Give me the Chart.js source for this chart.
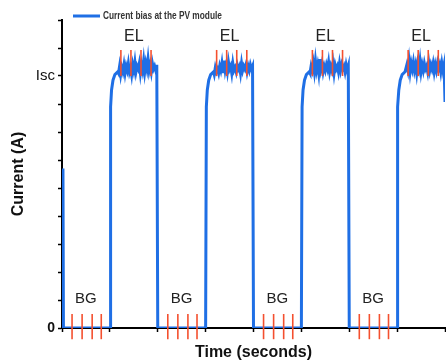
<!DOCTYPE html>
<html>
<head>
<meta charset="utf-8">
<script src="https://cdn.jsdelivr.net/npm/chart.js"></script>
<style>
  html, body { margin: 0; padding: 0; background: #fff; }
</style>
</head>
<body>
<canvas id="chart" width="446" height="362"></canvas>
<script>
// EL (lamp on) windows start at these times, BG windows in between
const elStarts = [1, 3, 5, 7];
const bgStarts = [0, 2, 4, 6];

// shape of the rise after the lamp switches on
const riseTimes = [0, 0.01, 0.03, 0.06, 0.1, 0.16];
const riseValues = [0, 7.9, 8.5, 8.85, 9.05, 9.15];

// noisy plateau (Isc is 9 on the axis)
const plateau1 = [9.10, 9.35, 9.05, 9.30, 9.15, 9.40, 9.10, 9.35, 9.20, 9.45, 9.15, 9.30, 9.05, 9.40, 9.20, 9.50, 9.15, 9.35,
                  9.25, 9.45, 9.10, 9.40, 9.20, 9.55, 9.15, 9.45, 9.25, 9.60, 9.20, 9.40, 9.15, 9.45, 9.25, 9.35, 9.20, 9.40];
const plateau2 = [9.05, 9.30, 9.15, 9.25, 9.10, 9.35, 9.20, 9.45, 9.10, 9.55, 9.20, 9.40, 9.15, 9.50, 9.25, 9.35, 9.10, 9.45,
                  9.20, 9.30, 9.15, 9.40, 9.25, 9.35, 9.10, 9.45, 9.20, 9.35, 9.25, 9.40, 9.15, 9.35, 9.20, 9.40, 9.25, 9.35];
const plateau3 = [9.10, 9.35, 9.20, 9.45, 9.15, 9.55, 9.20, 9.40, 9.10, 9.60, 9.25, 9.45, 9.15, 9.35, 9.20, 9.40, 9.25, 9.50,
                  9.15, 9.35, 9.20, 9.45, 9.10, 9.40, 9.25, 9.35, 9.15, 9.45, 9.20, 9.40, 9.25, 9.35, 9.15, 9.40, 9.20, 9.35];
const plateau4 = [9.15, 9.40, 9.20, 9.55, 9.15, 9.45, 9.25, 9.50, 9.20, 9.40, 9.10, 9.45, 9.25, 9.55, 9.15, 9.40, 9.20, 9.45,
                  9.25, 9.35, 9.15, 9.50, 9.20, 9.40, 9.25, 9.45, 9.15, 9.40, 9.20, 9.45, 9.25, 9.40, 9.15, 9.45, 9.20, 9.40];
const plateaus = [plateau1, plateau2, plateau3, plateau4];

const startValue = 5.7;   // tail of the previous EL pulse at t=0
const endValue = 8.07;    // where the trace stops at the right edge

// red measurement marks inside each window
const elMarkOffsets = [0.23, 0.44, 0.65, 0.86];
const bgMarkOffsets = [0.21, 0.42, 0.63, 0.82];
const elMarkRange = [9.0, 9.93];
const bgMarkRange = [-0.4, 0.5];

const elLabelY = 10.4;
const bgLabelY = 1.05;

const yTickLabels = { 0: "0", 9: "Isc" };

// build the trace
let trace = [{ x: 0.02, y: startValue }, { x: 0.03, y: 0 }];
elStarts.forEach((s, k) => {
    trace.push({ x: s, y: 0 });
    riseTimes.forEach((t, i) => trace.push({ x: s + t + 0.005, y: riseValues[i] }));
    const p = plateaus[k];
    p.forEach((v, i) => trace.push({ x: s + 0.18 + i * 0.8 / (p.length - 1), y: v }));
    if (k < elStarts.length - 1) {
        trace.push({ x: s + 1, y: 0 });
    } else {
        trace.push({ x: s + 1, y: endValue });
    }
});

const marksPlugin = {
    id: "marks",
    afterDraw(chart) {
        const c = chart.ctx, xs = chart.scales.x, ys = chart.scales.y;
        c.save();
        c.strokeStyle = "#f4502f";
        c.lineWidth = 1.6;
        function marks(starts, offs, range) {
            starts.forEach(s => offs.forEach(o => {
                const px = xs.getPixelForValue(s + o);
                c.beginPath();
                c.moveTo(px, ys.getPixelForValue(range[0]));
                c.lineTo(px, ys.getPixelForValue(range[1]));
                c.stroke();
            }));
        }
        marks(elStarts, elMarkOffsets, elMarkRange);
        marks(bgStarts, bgMarkOffsets, bgMarkRange);

        c.fillStyle = "#222";
        c.textAlign = "center";
        c.textBaseline = "middle";
        c.font = "16px 'Liberation Sans', Arial, sans-serif";
        elStarts.forEach(s => c.fillText("EL", xs.getPixelForValue(s + 0.5), ys.getPixelForValue(elLabelY)));
        c.font = "15px 'Liberation Sans', Arial, sans-serif";
        bgStarts.forEach(s => c.fillText("BG", xs.getPixelForValue(s + 0.5), ys.getPixelForValue(bgLabelY)));

        // legend
        c.strokeStyle = "#1f6fe5";
        c.lineWidth = 3;
        c.beginPath();
        c.moveTo(73, 16);
        c.lineTo(100, 16);
        c.stroke();
        c.fillStyle = "#333";
        c.textAlign = "left";
        c.font = "bold 10px 'Liberation Sans', Arial, sans-serif";
        c.fillText(chart.data.datasets[0].label, 103, 16, 119);
        c.restore();
    }
};

new Chart(document.getElementById("chart"), {
    type: "line",
    data: {
        datasets: [{
            label: "Current bias at the PV module",
            data: trace,
            borderColor: "#1f6fe5",
            borderWidth: 3,
            pointRadius: 0,
            tension: 0
        }]
    },
    options: {
        responsive: false,
        animation: false,
        layout: { padding: { top: 20, right: 1, left: 0, bottom: 0 } },
        plugins: { legend: { display: false }, tooltip: { enabled: false } },
        scales: {
            x: {
                type: "linear",
                min: 0,
                max: 8,
                z: 1,
                ticks: { stepSize: 1, callback: () => "", padding: 0 },
                grid: { drawOnChartArea: false, tickLength: 4, color: "#000", tickWidth: 1.5 },
                border: { color: "#000", width: 2 },
                title: {
                    display: true,
                    text: "Time (seconds)",
                    color: "#111",
                    font: { size: 16, weight: "bold", family: "'Liberation Sans', Arial, sans-serif" },
                    padding: { top: 0, bottom: 0 }
                },
                afterFit(scale) { scale.height = 34; }
            },
            y: {
                min: 0,
                max: 11,
                ticks: {
                    stepSize: 1,
                    color: "#111",
                    padding: 3,
                    autoSkip: false,
                    callback: v => yTickLabels[v] || "",
                    font: ctx => ctx.tick && ctx.tick.value === 0
                        ? { size: 14, weight: "bold", family: "'Liberation Sans', Arial, sans-serif" }
                        : { size: 15, family: "'Liberation Sans', Arial, sans-serif" }
                },
                grid: { drawOnChartArea: false, tickLength: 4, color: "#000", tickWidth: 1.5 },
                border: { color: "#000", width: 2 },
                title: {
                    display: true,
                    text: "Current (A)",
                    color: "#111",
                    font: { size: 16, weight: "bold", family: "'Liberation Sans', Arial, sans-serif" },
                    padding: { top: 9, bottom: 0 }
                },
                afterFit(scale) { scale.width = 62; }
            }
        }
    },
    plugins: [marksPlugin]
});
</script>
</body>
</html>
